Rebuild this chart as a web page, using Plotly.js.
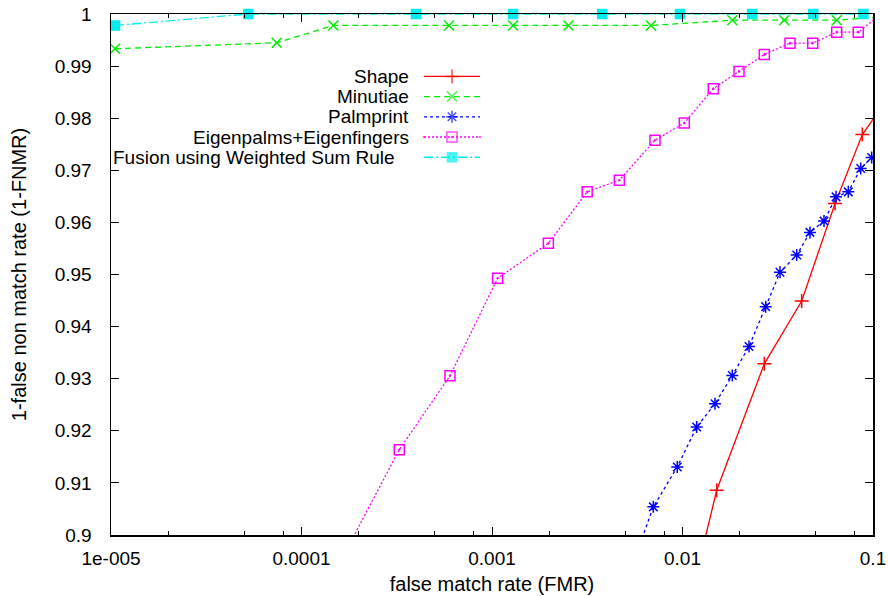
<!DOCTYPE html>
<html>
<head>
<meta charset="utf-8">
<script src="https://cdn.plot.ly/plotly-3.0.1.min.js"></script>
<style>html,body{margin:0;padding:0;background:#fff;}#chart{width:888px;height:596px;}</style>
</head>
<body>
<div id="chart"></div>
<script>
// ---- data ----
const seriesNames = ["Shape", "Minutiae", "Palmprint", "Eigenpalms+Eigenfingers", "Fusion using Weighted Sum Rule"];

const shapeX = [0.0114, 0.01512, 0.02688, 0.04224, 0.0632, 0.0879, 0.12];
const shapeY = [0.89, 0.90858, 0.93285, 0.94492, 0.96364, 0.97686, 0.9839];

const minutiaeX = [1.05e-5, 7.41e-5, 1.47e-4, 5.95e-4, 1.29e-3, 2.52e-3, 6.83e-3, 0.01826, 0.0342, 0.0645, 0.12];
const minutiaeY = [0.99333, 0.99448, 0.99780, 0.99780, 0.99780, 0.99780, 0.99780, 0.99881, 0.99881, 0.99881, 0.9995];

const palmX = [5.56e-3, 7.03e-3, 9.39e-3, 0.01187, 0.01481, 0.01826, 0.02234, 0.02733, 0.0325, 0.03977, 0.04669, 0.05532, 0.0640, 0.0742, 0.0862, 0.0984];
const palmY = [0.895, 0.9054, 0.91307, 0.92073, 0.92519, 0.93061, 0.93617, 0.94383, 0.95042, 0.95374, 0.95808, 0.96025, 0.9649, 0.96586, 0.97034, 0.97245];

const eigenX = [1.19e-4, 3.26e-4, 6.02e-4, 1.07e-3, 1.976e-3, 3.16e-3, 4.66e-3, 7.17e-3, 0.01022, 0.01451, 0.0198, 0.02688, 0.03667, 0.04826, 0.0645, 0.0837, 0.11];
const eigenY = [0.886, 0.91638, 0.93056, 0.94927, 0.95598, 0.96586, 0.9681, 0.97577, 0.97908, 0.98567, 0.98898, 0.99224, 0.9944, 0.9944, 0.99651, 0.99651, 1.0];

const fusionX = [1.05e-5, 5.26e-5, 3.99e-4, 1.29e-3, 3.79e-3, 9.7e-3, 0.0232, 0.0486, 0.089];
const fusionY = [0.9978, 1, 1, 1, 1, 1, 1, 1, 1];

const xTickVals = [1e-5, 1e-4, 1e-3, 1e-2, 1e-1];
const xTickLabels = ["1e-005", "0.0001", "0.001", "0.01", "0.1"];
const yTickVals = [0.9, 0.91, 0.92, 0.93, 0.94, 0.95, 0.96, 0.97, 0.98, 0.99, 1.0];
const yTickLabels = ["0.9", "0.91", "0.92", "0.93", "0.94", "0.95", "0.96", "0.97", "0.98", "0.99", "1"];

// ---- styles ----
const FONT = "'Liberation Sans', Arial, Helvetica, sans-serif";
const styles = [
  {color: "#ff0000", dash: "solid",            symbol: "cross-thin",     size: 10, clip: true},
  {color: "#00ee00", dash: "6px,4px",          symbol: "x-thin",         size: 10, clip: true},
  {color: "#0000ff", dash: "3px,3px",          symbol: "asterisk-open",  size: 10, clip: true},
  {color: "#ff00ff", dash: "2px,2px",          symbol: "square-open-dot",size: 10, clip: true},
  {color: "#00eeee", dash: "9px,3px,2px,3px",  symbol: "square",         size: 9,  clip: false}
];
const xs = [shapeX, minutiaeX, palmX, eigenX, fusionX];
const ys = [shapeY, minutiaeY, palmY, eigenY, fusionY];

const traces = [];
for (let i = 0; i < xs.length; i++) {
  const s = styles[i];
  traces.push({
    type: "scatter", mode: "lines+markers", name: seriesNames[i],
    x: xs[i], y: ys[i], cliponaxis: s.clip, showlegend: false,
    line: {color: s.color, width: 1.3, dash: s.dash},
    marker: {symbol: s.symbol, size: s.size, color: s.color,
             line: {color: s.color, width: 1.5}}
  });
}

// ---- gnuplot-style key (text right, sample on its right) ----
const L = 111, R = 873, T = 13.5, B = 535.5;
const PW = R - L, PH = B - T;
const keyTextRight = [411, 411, 411, 411, 397];
const keyLine0 = 424, keyLine1 = 480, keyRow0 = 76, keyStep = 20.25;
const annotations = [];
for (let i = 0; i < seriesNames.length; i++) {
  const s = styles[i];
  const yp = (B - (keyRow0 + i * keyStep)) / PH;
  const x0 = (keyLine0 - L) / PW, x1 = (keyLine1 - L) / PW;
  annotations.push({xref: "paper", yref: "paper", x: (keyTextRight[i] - L) / PW, y: yp,
    xanchor: "right", yanchor: "middle", showarrow: false, text: seriesNames[i],
    font: {family: FONT, size: 19, color: "#000"}});
  traces.push({
    type: "scatter", mode: "lines+markers", xaxis: "x2", yaxis: "y2", showlegend: false,
    hoverinfo: "skip", cliponaxis: false,
    x: [x0, (x0 + x1) / 2, x1], y: [yp, yp, yp],
    line: {color: s.color, width: 1.3, dash: s.dash},
    marker: {symbol: s.symbol, size: [0, s.size, 0], color: s.color,
             line: {color: s.color, width: 1.5}}
  });
}

// minor ticks seen in reference at 2,5,8 of each decade
const minorVals = [];
for (let e = -5; e < -1; e++) { [2, 5, 8].forEach(m => minorVals.push(m * Math.pow(10, e))); }

const layout = {
  width: 888, height: 596,
  margin: {l: L, r: 888 - R, t: T, b: 596 - B, pad: 0},
  paper_bgcolor: "#fff", plot_bgcolor: "#fff",
  font: {family: FONT, size: 19, color: "#000"},
  showlegend: false,
  xaxis: {
    type: "log", range: [-5, -1], showgrid: false, zeroline: false,
    showline: true, linecolor: "#000", linewidth: 1.5, mirror: "ticks",
    ticks: "inside", ticklen: 8, tickwidth: 1, tickcolor: "#000",
    tickmode: "array", tickvals: xTickVals, ticktext: xTickLabels,
    ticklabelstandoff: 6,
    minor: {tickmode: "array", tickvals: minorVals, ticks: "inside", ticklen: 4, tickcolor: "#000", tickwidth: 1, showgrid: false},
    tickfont: {family: FONT, size: 19, color: "#000"},
    title: {text: "false match rate (FMR)", font: {family: FONT, size: 20, color: "#000"}, standoff: 8}
  },
  yaxis: {
    range: [0.9, 1.0], showgrid: false, zeroline: false,
    showline: true, linecolor: "#000", linewidth: 1.5, mirror: "ticks",
    ticks: "inside", ticklen: 8, tickwidth: 1, tickcolor: "#000",
    tickmode: "array", tickvals: yTickVals, ticktext: yTickLabels,
    ticklabelstandoff: 14,
    tickfont: {family: FONT, size: 19, color: "#000"},
    title: {text: "1-false non match rate (1-FNMR)", font: {family: FONT, size: 20, color: "#000"}, standoff: 22}
  },
  xaxis2: {overlaying: "x", range: [0, 1], visible: false, fixedrange: true},
  yaxis2: {overlaying: "y", range: [0, 1], visible: false, fixedrange: true},
  annotations: annotations
};

Plotly.newPlot("chart", traces, layout, {staticPlot: true, displayModeBar: false});
</script>
</body>
</html>
